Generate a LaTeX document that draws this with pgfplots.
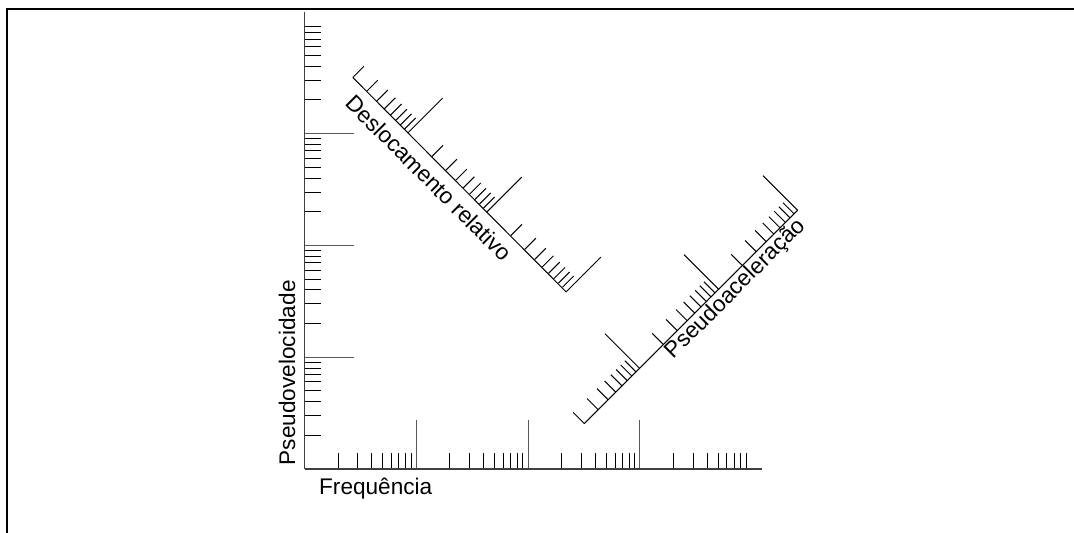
\documentclass[border=0pt]{standalone}
\usepackage{fontspec}
\setmainfont{Liberation Sans}
\usepackage{pgfplots}
\pgfplotsset{compat=1.18}
\usepackage{pgfplotstable}

% Relative displacement scale: tick feet on the -45 degree line, tick vectors
\pgfplotstableread{
x      y      du     dv
0.432  3.502  0.10   0.10
0.556  3.378  0.10   0.10
0.645  3.289  0.10   0.10
0.713  3.221  0.10   0.10
0.769  3.165  0.10   0.10
0.816  3.118  0.10   0.10
0.857  3.077  0.10   0.10
0.894  3.040  0.10   0.10
0.926  3.008  0.31   0.31
1.139  2.795  0.10   0.10
1.263  2.671  0.10   0.10
1.352  2.582  0.10   0.10
1.420  2.514  0.10   0.10
1.476  2.458  0.10   0.10
1.524  2.410  0.10   0.10
1.565  2.369  0.10   0.10
1.601  2.333  0.10   0.10
1.633  2.301  0.31   0.31
1.846  2.088  0.10   0.10
1.970  1.964  0.10   0.10
2.059  1.875  0.10   0.10
2.127  1.807  0.10   0.10
2.183  1.751  0.10   0.10
2.231  1.703  0.10   0.10
2.272  1.662  0.10   0.10
2.308  1.626  0.10   0.10
2.340  1.584  0.31   0.31
}\desloc

% Pseudo-acceleration scale: tick feet on the +45 degree line, tick vectors
\pgfplotstableread{
x      y      du     dv
2.503  0.406  -0.10  0.10
2.627  0.530  -0.10  0.10
2.716  0.619  -0.10  0.10
2.784  0.687  -0.10  0.10
2.840  0.743  -0.10  0.10
2.887  0.790  -0.10  0.10
2.928  0.831  -0.10  0.10
2.965  0.868  -0.10  0.10
2.997  0.900  -0.31  0.31
3.210  1.113  -0.10  0.10
3.334  1.237  -0.10  0.10
3.423  1.326  -0.10  0.10
3.491  1.394  -0.10  0.10
3.547  1.450  -0.10  0.10
3.595  1.498  -0.10  0.10
3.636  1.539  -0.10  0.10
3.672  1.575  -0.10  0.10
3.704  1.607  -0.31  0.31
3.917  1.820  -0.10  0.10
4.041  1.944  -0.10  0.10
4.130  2.033  -0.10  0.10
4.198  2.101  -0.10  0.10
4.254  2.157  -0.10  0.10
4.302  2.205  -0.10  0.10
4.343  2.246  -0.10  0.10
4.379  2.282  -0.10  0.10
4.411  2.314  -0.31  0.31
}\acel

\begin{document}
\begin{tikzpicture}
\path[use as bounding box] (0,0) rectangle (537pt,266.5pt);
\draw[line width=1pt, line join=miter] (3.5pt,0pt) -- (3.5pt,262pt) -- (537pt,262pt);
\begin{axis}[
  at={(152.25pt,32pt)}, anchor=south west,
  x=55.9pt, y=55.9pt,
  xmin=0, xmax=4.092, ymin=0, ymax=4.088,
  axis x line*=bottom, axis y line*=left,
  axis line style={black!75, line width=0.9pt, -},
  clip=false,
  tick align=inside,
  xtick={1,2,3}, ytick={1,2,3},
  minor xtick={0.30103,0.47712,0.60206,0.69897,0.77815,0.84510,0.90309,0.95424,
               1.30103,1.47712,1.60206,1.69897,1.77815,1.84510,1.90309,1.95424,
               2.30103,2.47712,2.60206,2.69897,2.77815,2.84510,2.90309,2.95424,
               3.30103,3.47712,3.60206,3.69897,3.77815,3.84510,3.90309,3.95424},
  minor ytick={0.30103,0.47712,0.60206,0.69897,0.77815,0.84510,0.90309,0.95424,
               1.30103,1.47712,1.60206,1.69897,1.77815,1.84510,1.90309,1.95424,
               2.30103,2.47712,2.60206,2.69897,2.77815,2.84510,2.90309,2.95424,
               3.30103,3.47712,3.60206,3.69897,3.77815,3.84510,3.90309,3.95424},
  xticklabels={}, yticklabels={},
  major tick length=24.5pt, minor tick length=8pt,
  every major tick/.append style={black!65, line width=0.55pt},
  every minor tick/.append style={black, line width=0.5pt},
]
% diagonal scale lines
\addplot[black, line width=0.5pt, no markers] coordinates {(0.432,3.502) (2.340,1.584)};
\addplot[black, line width=0.5pt, no markers] coordinates {(2.503,0.406) (4.411,2.314)};
% their ticks
\addplot[black, line width=0.5pt, no markers, -,
  quiver={u=\thisrow{du}, v=\thisrow{dv}}] table {\desloc};
\addplot[black, line width=0.5pt, no markers, -,
  quiver={u=\thisrow{du}, v=\thisrow{dv}}] table {\acel};
% labels
\node[rotate=-45, anchor=base, font=\fontsize{11.3}{13}\selectfont] at (axis cs:1.062,2.552) {Deslocamento relativo};
\node[rotate=45, anchor=base, font=\fontsize{11.3}{13}\selectfont] at (axis cs:3.896,1.571) {Pseudoaceleração};
\node[rotate=90, anchor=base, font=\fontsize{11.3}{13}\selectfont] at (axis cs:-0.085,0.861) {Pseudovelocidade};
\node[anchor=base west, font=\fontsize{11.3}{13}\selectfont] at (axis cs:0.068,-0.224) {Frequência};
\end{axis}
\end{tikzpicture}
\end{document}
